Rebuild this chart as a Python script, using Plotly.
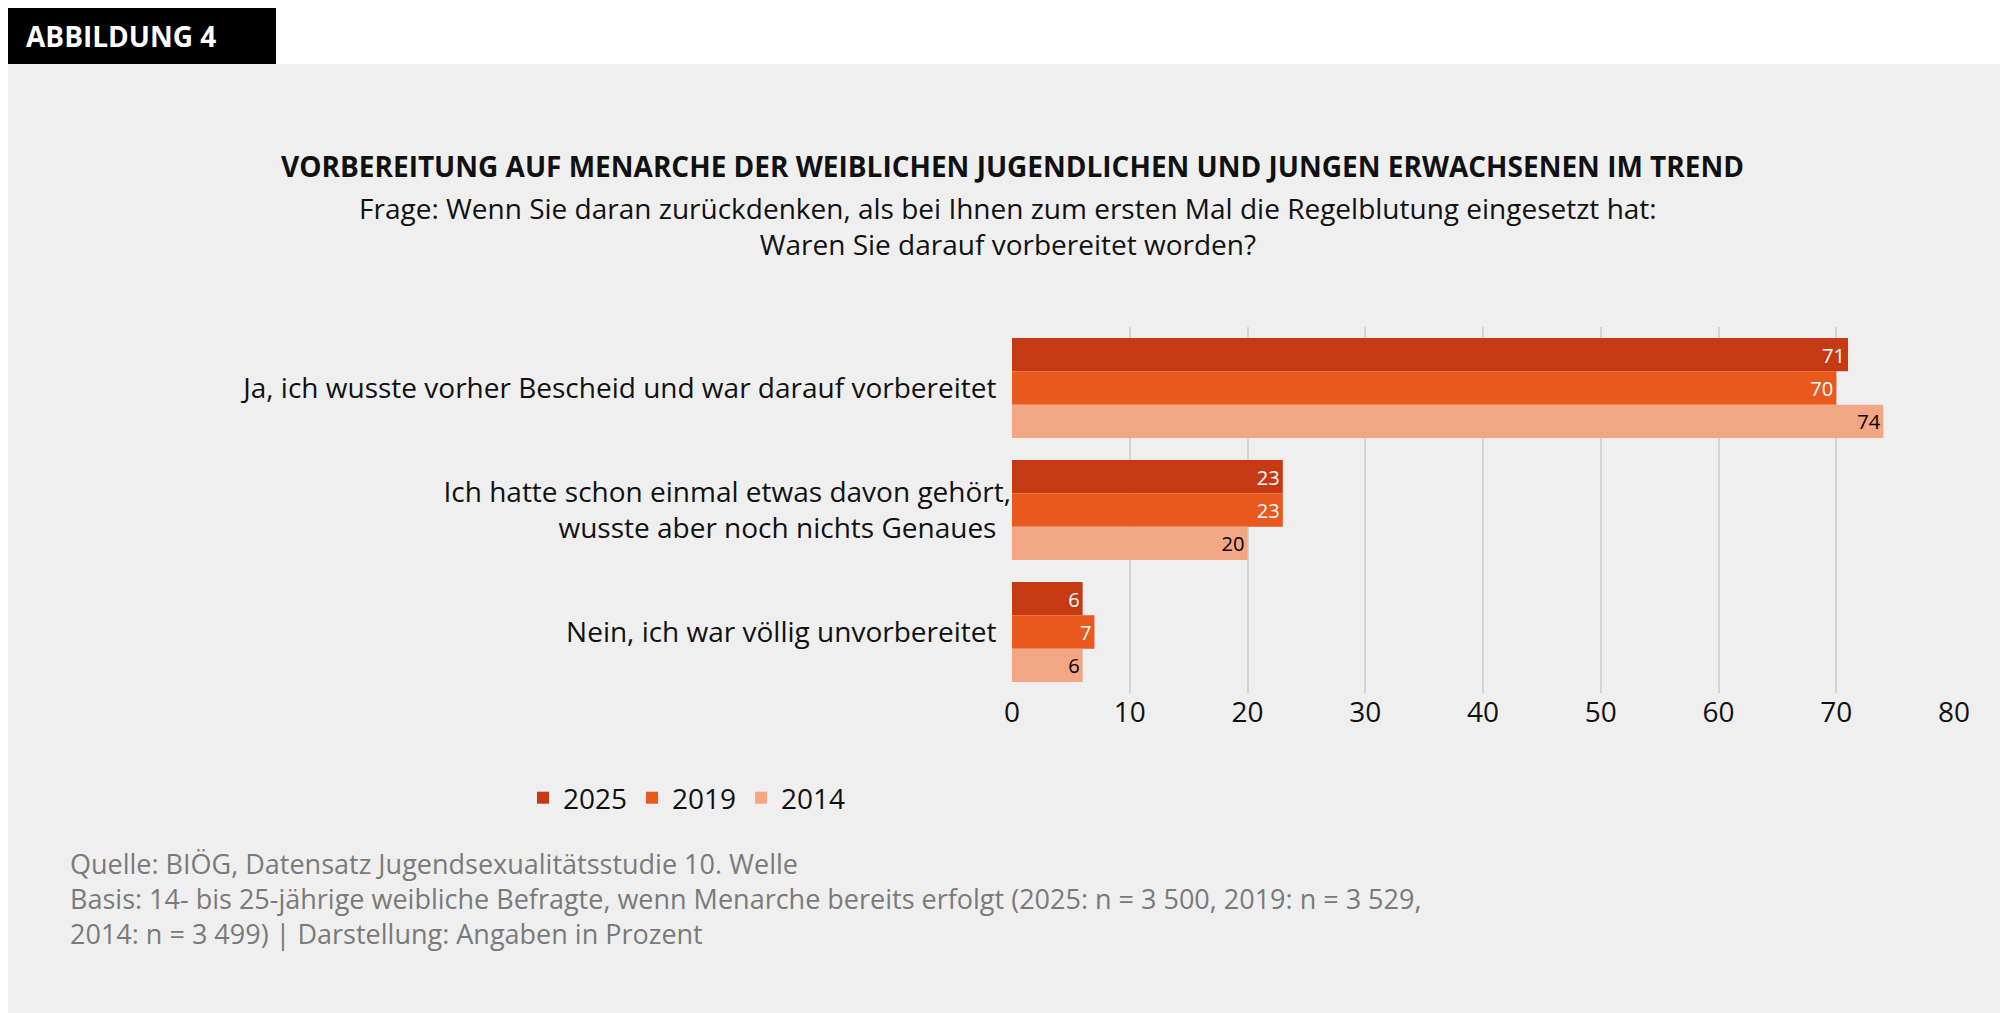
import plotly.graph_objects as go

W, H = 2008, 1013
L, R, T, B = 1004, 62, 319, 328

categories = ["Ja, ich wusste vorher Bescheid und war darauf vorbereitet",
              "Ich hatte schon einmal etwas davon gehört,<br>wusste aber noch nichts Genaues",
              "Nein, ich war völlig unvorbereitet"]
v2025 = [71, 23, 6]
v2019 = [70, 23, 7]
v2014 = [74, 20, 6]
years = ["2025", "2019", "2014"]
colors = {"2025": "#c53a13", "2019": "#e9581d", "2014": "#f3a683"}
txtcol = {"2025": "white", "2019": "white", "2014": "black"}
series = {"2025": v2025, "2019": v2019, "2014": v2014}

pw, ph = W - L - R, H - T - B
def px(x): return (x - L) / pw
def py(y): return (H - B - y) / ph

FONT = "Open Sans, Noto Sans, sans-serif"
fig = go.Figure()
for yr in years:
    fig.add_trace(go.Bar(
        y=categories, x=series[yr], name=yr, orientation="h",
        marker=dict(color=colors[yr], line=dict(width=0)),
        text=series[yr], textposition="inside", insidetextanchor="end", textangle=0,
        textfont=dict(size=28, color=txtcol[yr], family=FONT),
    ))

fig.update_layout(
    width=W, height=H, barmode="group", bargap=0.18, bargroupgap=0,
    paper_bgcolor="#efefef", plot_bgcolor="#efefef",
    margin=dict(l=L, r=R, t=T, b=B),
    font=dict(family=FONT, size=28, color="#111"),
    xaxis=dict(range=[0, 80], dtick=10, showgrid=True, gridcolor="#d3d3d3", gridwidth=2,
               zeroline=False, tickfont=dict(size=28), ticks="", ticklen=0),
    yaxis=dict(autorange="reversed", tickfont=dict(size=28), ticksuffix="  ",
               showgrid=False),
    legend=dict(orientation="h", x=px(515), y=py(765), xanchor="left", yanchor="top",
                traceorder="normal", font=dict(size=28), bgcolor="rgba(0,0,0,0)",
                itemwidth=30),
    showlegend=True,
    uniformtext=dict(minsize=20, mode="show"),
)

shapes = [
    dict(type="rect", xref="paper", yref="paper", x0=px(0), x1=px(W), y0=py(56), y1=py(0),
         fillcolor="white", line=dict(width=0), layer="below"),
    dict(type="rect", xref="paper", yref="paper", x0=px(0), x1=px(268), y0=py(56), y1=py(0),
         fillcolor="black", line=dict(width=0)),
]
fig.update_layout(shapes=shapes)

ann = [
    dict(x=px(16), y=py(28), text="<b>ABBILDUNG 4</b>", xanchor="left", yanchor="middle",
         font=dict(size=28, color="white")),
    dict(x=px(1004), y=py(158), text="<b>VORBEREITUNG AUF MENARCHE DER WEIBLICHEN JUGENDLICHEN UND JUNGEN ERWACHSENEN IM TREND</b>",
         xanchor="center", yanchor="middle", font=dict(size=28, color="#111")),
    dict(x=px(1000), y=py(218), text="Frage: Wenn Sie daran zurückdenken, als bei Ihnen zum ersten Mal die Regelblutung eingesetzt hat:<br>Waren Sie darauf vorbereitet worden?",
         xanchor="center", yanchor="middle", font=dict(size=28, color="#111")),
    dict(x=px(60), y=py(835), text="Quelle: BIÖG, Datensatz Jugendsexualitätsstudie 10. Welle<br>Basis: 14- bis 25-jährige weibliche Befragte, wenn Menarche bereits erfolgt (2025: n = 3 500, 2019: n = 3 529,<br>2014: n = 3 499) | Darstellung: Angaben in Prozent",
         xanchor="left", yanchor="top", align="left", font=dict(size=27, color="#7a7a7a")),
]
for a in ann:
    a.update(xref="paper", yref="paper", showarrow=False)
fig.update_layout(annotations=ann)

fig.write_html("out.html")
